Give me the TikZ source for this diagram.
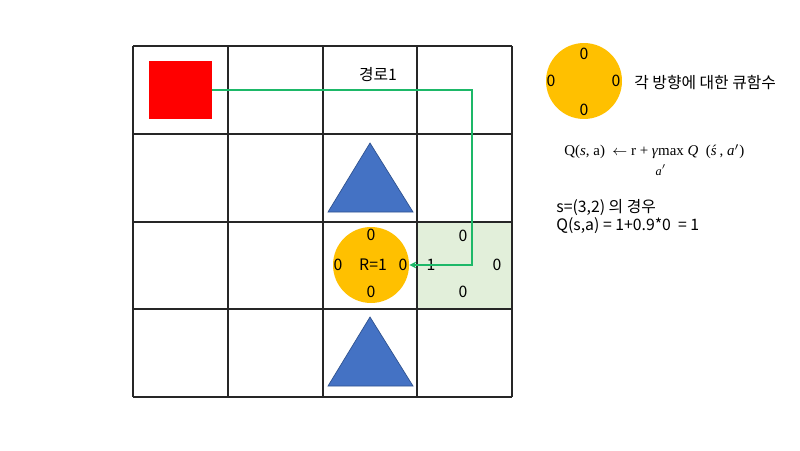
\documentclass[tikz,border=0pt]{standalone}
\usepackage{fontspec}
\setmainfont{Noto Sans CJK KR}
\newfontfamily\rulefont{Liberation Serif}
\usetikzlibrary{arrows.meta}

\definecolor{goalred}{HTML}{FF0000}
\definecolor{trapblue}{HTML}{4472C4}
\definecolor{trapedge}{HTML}{2F528F}
\definecolor{qorange}{HTML}{FFC000}
\definecolor{routegreen}{HTML}{1DB868}
\definecolor{cellgreen}{HTML}{E2EFDA}

\tikzset{
  gridline/.style={black!85, line width=0.6pt},
  trap/.style={fill=trapblue, draw=trapedge, line width=0.4pt},
  qball/.style={circle, fill=qorange, minimum size=1.52cm, inner sep=0pt},
  qval/.style={font=\fontsize{9}{10}\selectfont, inner sep=0pt},
  route/.style={routegreen, line width=1.2pt, -{Stealth[length=4pt,width=4pt]}},
  note/.style={font=\fontsize{9}{11}\selectfont, inner sep=0pt},
  formula/.style={font=\fontsize{8.5}{10}\selectfont\rulefont, inner sep=0pt}
}

\begin{document}
\begin{tikzpicture}[x=0.02cm, y=-0.02cm]
\useasboundingbox (0,0) rectangle (800,450);

% shaded cell next to the reward
\fill[cellgreen] (417,222) rectangle (512,309);

% grid
\foreach \x in {133,228,323,417,512}
  \draw[gridline] (\x,46) -- (\x,397);
\foreach \y in {46,134,222,309,397}
  \draw[gridline] (133,\y) -- (512,\y);

% start and obstacles
\node[fill=goalred, minimum width=1.26cm, minimum height=1.16cm, inner sep=0pt] (start) at (180.5,90) {};
\filldraw[trap] (370,143) -- (413,212) -- (328,212) -- cycle;
\filldraw[trap] (370,317) -- (413,386) -- (328,386) -- cycle;

% reward cell
\node[qball] (ball) at (371,265) {};
\node[qval] (bn) at (371,235) {0};
\node[qval] (bw) at (338,265) {0};
\node[qval] (br) at (373,265) {R=1};
\node[qval] (be) at (403,265) {0};
\node[qval] (bs) at (371,292) {0};

% q values of (3,2)
\node[qval] (cn) at (463,236) {0};
\node[qval] (cw) at (431,265) {1};
\node[qval] (ce) at (497,265) {0};
\node[qval] (cs) at (463,292) {0};

% route
\node[note] (routelabel) at (378,75) {경로1};
\coordinate (bend1) at (472,90);
\coordinate (bend2) at (472,265);
\draw[route] (start.east) -- (bend1) -- (bend2) -- (ball.east);

% legend
\node[qball] (legend) at (584,81) {};
\node[qval] (ln) at (584,54) {0};
\node[qval] (lw) at (551,81) {0};
\node[qval] (le) at (616,81) {0};
\node[qval] (ls) at (584,110) {0};
\node[note, anchor=west] (legendtext) at (634,83) {각 방향에 대한 큐함수};

% update rule
\node[formula, anchor=west] (rule) at (564,152)
  {Q(\textit{s}, a)\ \ $\leftarrow$ r + \textit{γ}max \textit{Q}\ \ (\textit{s}\kern-0.3em\textit{ˊ}\,, \textit{a}$'$)};
\node[formula, font=\fontsize{7}{8}\selectfont\rulefont] (rulesub) at (661,170) {\textit{a}$'$};

% example
\node[note, anchor=west] (case) at (556,208) {s=(3,2) 의 경우};
\node[note, anchor=west] (calc) at (556,226) {Q(s,a) = 1+0.9*0 \ = 1};
\end{tikzpicture}
\end{document}
